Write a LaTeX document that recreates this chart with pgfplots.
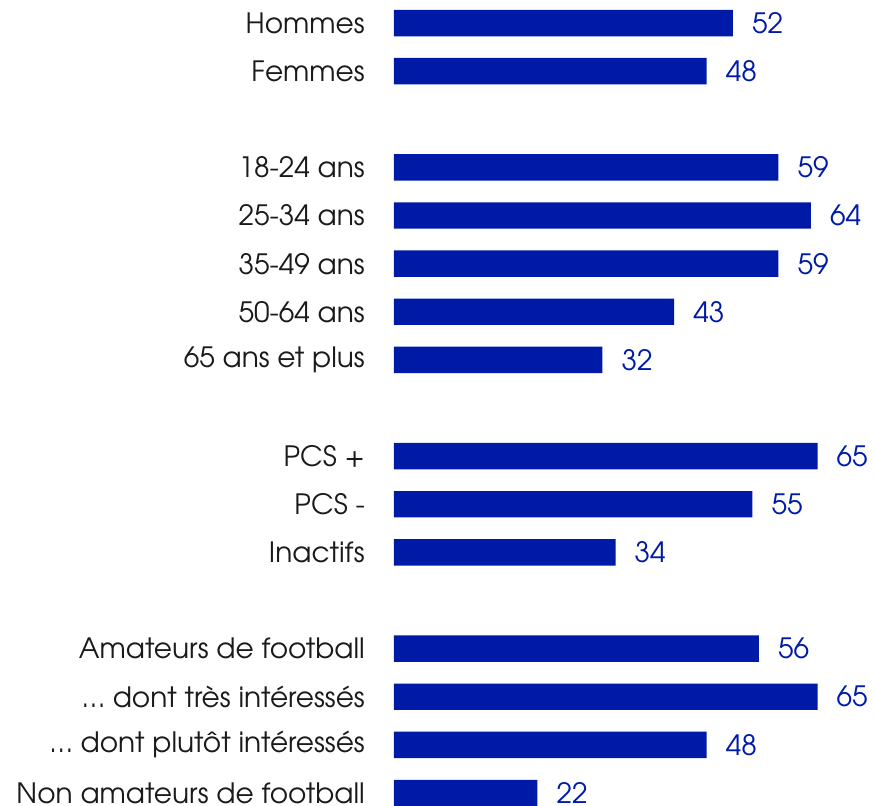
\documentclass[border=0pt]{standalone}
\usepackage{pgfplots}
\pgfplotsset{compat=1.18}
\usepackage{fontspec}
\setmainfont{TeX Gyre Adventor}
\definecolor{barblue}{HTML}{001AA8}
\definecolor{labtxt}{HTML}{1A1A1A}
\begin{document}
\begin{tikzpicture}
\begin{axis}[
  at={(0pt,0pt)}, anchor=north west,
  scale only axis,
  width=423.5pt, height=818pt,
  xmin=0, xmax=65,
  ymin=-0.5, ymax=16.5,
  y dir=reverse,
  xbar, bar width=26.4pt,
  axis line style={draw=none},
  xtick=\empty,
  ytick={0,1,3,4,5,6,7,9,10,11,13,14,15,16},
  yticklabels={Hommes,Femmes,18-24 ans,25-34 ans,35-49 ans,50-64 ans,65 ans et plus,PCS +,PCS -,Inactifs,Amateurs de football,… dont très intéressés,… dont plutôt intéressés,Non amateurs de football},
  major tick length=0pt,
  yticklabel style={anchor=east, inner sep=0pt, xshift=-29pt, text=labtxt, font=\fontsize{28}{33}\selectfont},
  /pgf/number format/assume math mode=true,
  nodes near coords,
  every node near coord/.append style={anchor=west, inner sep=0pt, xshift=19pt, text=barblue, font=\fontsize{28}{33}\selectfont},
  clip=false,
]
\addplot[fill=barblue, draw=none] coordinates {
(52,0) (48,1) (59,3) (64,4) (59,5) (43,6) (32,7) (65,9) (55,10) (34,11) (56,13) (65,14) (48,15) (22,16)
};
\end{axis}
\pgfresetboundingbox
\path[use as bounding box] (-394pt,-1pt) rectangle (480pt,-806pt);
\end{tikzpicture}
\end{document}
